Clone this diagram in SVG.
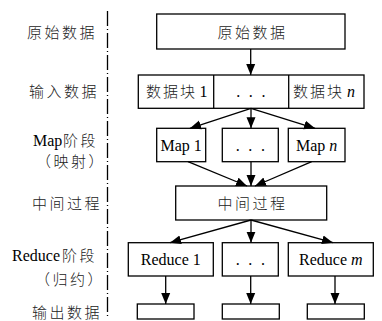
<svg xmlns="http://www.w3.org/2000/svg" width="382" height="321" viewBox="0 0 382 321">
<defs>
<style>
.box{fill:#fff;stroke:#000;stroke-width:1.3}
.zh{font-family:"Noto Sans CJK SC","Noto Sans CJK JP",sans-serif;font-size:15px;font-weight:300;letter-spacing:2.5px;fill:#222}
.lt{font-family:"Liberation Serif","Times New Roman",serif;font-size:16px;fill:#000}
.c{text-anchor:middle}
.ln{stroke:#000;stroke-width:1.3;fill:none}
.dots{font-family:"Liberation Serif",serif;font-size:16px;letter-spacing:2.3px;text-anchor:middle}
</style>
<marker id="ah" markerUnits="userSpaceOnUse" markerWidth="12" markerHeight="10" refX="11" refY="5" orient="auto">
<path d="M0,0.5 L11,5 L0,9.5 Z" fill="#000"/>
</marker>
</defs>
<rect width="382" height="321" fill="#fff"/>
<g id="divider">
<line x1="107.5" y1="11" x2="107.5" y2="319" stroke="#000" stroke-width="1.3" stroke-dasharray="15 3 1 3"/>
</g>
<g id="labels">
<text class="zh" x="27" y="37.5">原始数据</text>
<text class="zh" x="29" y="97">输入数据</text>
<text class="lt" x="33" y="146">Map</text>
<text class="zh" x="63" y="146">阶段</text>
<text class="zh" x="36" y="167">（映射）</text>
<text class="zh" x="32" y="208.5">中间过程</text>
<text class="lt" x="12" y="261">Reduce</text>
<text class="zh" x="62" y="261">阶段</text>
<text class="zh" x="35" y="284.5">（归约）</text>
<text class="zh" x="32" y="317.5">输出数据</text>
</g>
<g id="n-raw">
<rect class="box" x="156.7" y="14" width="188.3" height="35"/>
<text class="zh c" x="252.5" y="37.5">原始数据</text>
</g>
<g id="n-input">
<rect class="box" x="138.3" y="75" width="225.7" height="33.3"/>
<line class="ln" x1="213.7" y1="75" x2="213.7" y2="108.3"/>
<line class="ln" x1="288.7" y1="75" x2="288.7" y2="108.3"/>
<text class="zh" x="146" y="97" style="letter-spacing:2px">数据块</text>
<text class="lt" x="199.5" y="97">1</text>
<text class="dots" x="252" y="97">. . .</text>
<text class="zh" x="293" y="97" style="letter-spacing:2px">数据块</text>
<text class="lt" x="347" y="97" font-style="italic">n</text>
</g>
<g id="n-map1">
<rect class="box" x="156.7" y="128.3" width="49" height="33.4"/>
<text class="lt c" x="181.2" y="150.5">Map 1</text>
</g>
<g id="n-mapdots">
<rect class="box" x="222.3" y="128.3" width="56" height="33.4"/>
<text class="dots" x="251.5" y="150.5">. . .</text>
</g>
<g id="n-mapn">
<rect class="box" x="288.3" y="128.3" width="56.7" height="33.4"/>
<text class="lt c" x="316.7" y="150.5">Map <tspan font-style="italic">n</tspan></text>
</g>
<g id="n-mid">
<rect class="box" x="175.7" y="186" width="151" height="34"/>
<text class="zh c" x="252.5" y="208.5">中间过程</text>
</g>
<g id="n-red1">
<rect class="box" x="128.3" y="242.7" width="85" height="33.3"/>
<text class="lt c" x="170.8" y="265">Reduce 1</text>
</g>
<g id="n-reddots">
<rect class="box" x="222.3" y="242.7" width="56" height="33.3"/>
<text class="dots" x="251.5" y="265">. . .</text>
</g>
<g id="n-redm">
<rect class="box" x="288.3" y="242.7" width="85" height="33.3"/>
<text class="lt c" x="330.8" y="265">Reduce <tspan font-style="italic">m</tspan></text>
</g>
<g id="n-out1"><rect class="box" x="137.3" y="304" width="56.7" height="15"/></g>
<g id="n-out2"><rect class="box" x="222.3" y="304" width="57" height="15"/></g>
<g id="n-out3"><rect class="box" x="307.3" y="304" width="57" height="15"/></g>
<g id="connectors" class="ln" marker-end="url(#ah)">
<line x1="250.7" y1="49" x2="250.7" y2="75"/>
<line x1="251" y1="108.3" x2="190" y2="128.3"/>
<line x1="251" y1="108.3" x2="251" y2="128.3"/>
<line x1="251" y1="108.3" x2="315" y2="128.3"/>
<line x1="188" y1="161.7" x2="247" y2="186"/>
<line x1="251" y1="161.7" x2="251" y2="186"/>
<line x1="311.7" y1="161.7" x2="255" y2="186"/>
<line x1="251" y1="220" x2="170" y2="242.7"/>
<line x1="251" y1="220" x2="251" y2="242.7"/>
<line x1="251" y1="220" x2="333" y2="242.7"/>
<line x1="165.7" y1="276" x2="165.7" y2="304"/>
<line x1="250.7" y1="276" x2="250.7" y2="304"/>
<line x1="335" y1="276" x2="335" y2="304"/>
</g>
</svg>
